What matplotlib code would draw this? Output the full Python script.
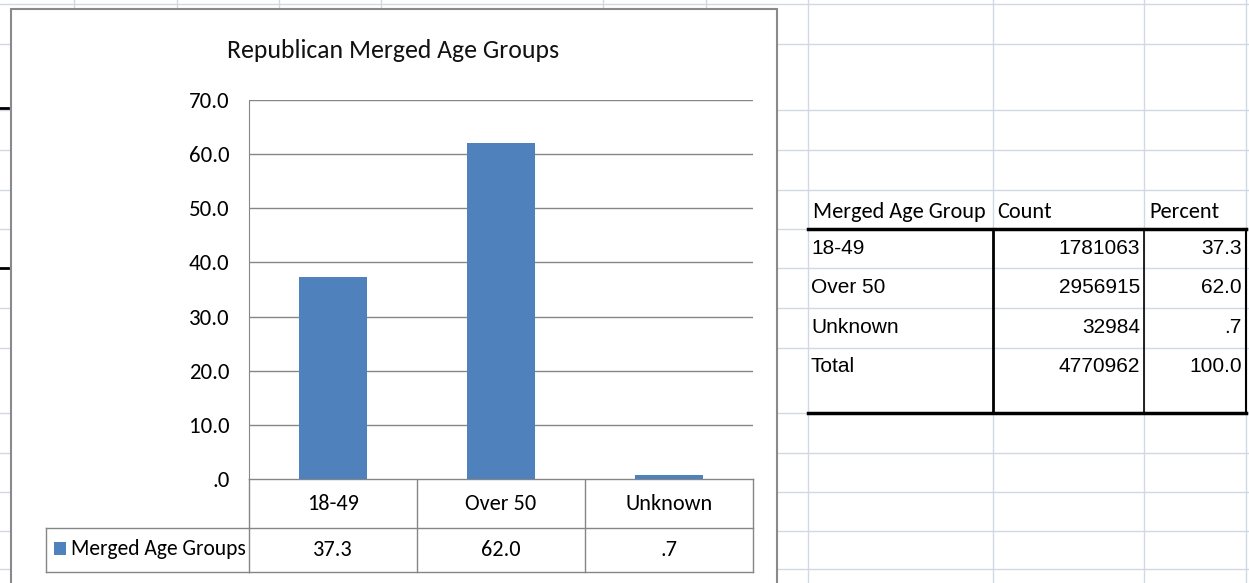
"""Republican merged age groups: Excel-style column chart with data table, plus the SPSS frequency table."""

import matplotlib

matplotlib.use("Agg")
import matplotlib.pyplot as plt
from matplotlib import font_manager
from matplotlib.patches import Rectangle
from matplotlib.transforms import blended_transform_factory

TITLE = "Republican Merged Age Groups"
SERIES_NAME = "Merged Age Groups"
CATEGORIES = ["18-49", "Over 50", "Unknown"]
PERCENTS = [37.3, 62.0, 0.7]
COUNTS = [1781063, 2956915, 32984]
TOTAL_LABEL = "Total"
TOTAL_COUNT = 4770962
TOTAL_PERCENT = 100.0
Y_TICKS = [0, 10, 20, 30, 40, 50, 60, 70]
TABLE_HEADER = ["Merged Age Group", "Count", "Percent"]

BAR_COLOR = "#4F81BD"
GRID_COLOR = "#868686"
SHEET_COLOR = "#D0D7E5"

W, H = 1249, 583


def pick_font(name, fallback):
    try:
        font_manager.findfont(name, fallback_to_default=False)
        return name
    except ValueError:
        return fallback


CHART_FONT = pick_font("Carlito", "Lato")
NARROW_FONT = pick_font("Liberation Sans Narrow", "Liberation Sans")
NARROW_SIZE = 16 if NARROW_FONT == "Liberation Sans Narrow" else 15


def spss(v):
    s = f"{v:.1f}"
    return s[1:] if s.startswith("0.") else s


fig = plt.figure(figsize=(W / 100, H / 100), dpi=100)

# background "sheet" in pixel coordinates (y grows downward)
bg = fig.add_axes([0, 0, 1, 1])
bg.set_xlim(0, W)
bg.set_ylim(H, 0)
bg.axis("off")

sheet_rows = [4, 44, 110, 150, 190, 229, 268, 308, 348, 413, 453, 492, 531, 569]
for y in sheet_rows:
    bg.plot([0, W], [y, y], color=SHEET_COLOR, lw=1, zorder=1)
for x in [74, 177, 279, 381, 603, 706, 808, 993, 1144, 1246]:
    bg.plot([x, x], [0, H], color=SHEET_COLOR, lw=1, zorder=1)
for y in [108, 268]:
    bg.plot([0, 8], [y, y], color="black", lw=2, zorder=1)

bg.add_patch(Rectangle((11, 9), 766, 600, facecolor="white", edgecolor="#8A8A8A", lw=1.5, zorder=2))

bg.text(393, 50, TITLE, ha="center", va="center", fontsize=18.5, family=CHART_FONT, color="#111111", zorder=5)

# bar chart plot area
ax = fig.add_axes([249 / W, 1 - 479 / H, 504 / W, 379 / H])
ax.set_zorder(3)
x = list(range(len(CATEGORIES)))
ax.bar(x, PERCENTS, width=0.405, color=BAR_COLOR, zorder=3)
ax.set_xlim(-0.5, len(CATEGORIES) - 0.5)
ax.set_ylim(0, 70)
ax.set_yticks(Y_TICKS)
ax.set_yticklabels([spss(v) for v in Y_TICKS], family=CHART_FONT, fontsize=16.5)
ax.set_xticks([])
ax.tick_params(axis="y", length=0, pad=14)
ax.yaxis.grid(True, color=GRID_COLOR, lw=1)
ax.set_axisbelow(True)
for side in ["top", "right", "bottom"]:
    ax.spines[side].set_visible(False)
ax.spines["left"].set_color(GRID_COLOR)

# data table under the chart: x follows the bar axis, y in sheet pixels
tr = blended_transform_factory(ax.transData, bg.transData)
n = len(CATEGORIES)
bg.plot([-0.5, n - 0.5], [479, 479], color=GRID_COLOR, lw=1, transform=tr, zorder=5)
for y in [528, 572]:
    bg.plot([46, 249], [y, y], color=GRID_COLOR, lw=1, zorder=5)
    bg.plot([-0.5, n - 0.5], [y, y], color=GRID_COLOR, lw=1, transform=tr, zorder=5)
bg.plot([46, 46], [528, 572], color=GRID_COLOR, lw=1, zorder=5)
for i in range(n + 1):
    bg.plot([i - 0.5, i - 0.5], [479, 572], color=GRID_COLOR, lw=1, transform=tr, zorder=5)
for i, (cat, val) in enumerate(zip(CATEGORIES, PERCENTS)):
    bg.text(i, 504, cat, ha="center", va="center", fontsize=16, family=CHART_FONT, transform=tr, zorder=6)
    bg.text(i, 550, spss(val), ha="center", va="center", fontsize=16, family=CHART_FONT, transform=tr, zorder=6)
bg.add_patch(Rectangle((54, 542), 12, 13, facecolor=BAR_COLOR, edgecolor="none", zorder=6))
bg.text(71, 549, SERIES_NAME, ha="left", va="center", fontsize=15.5, family=CHART_FONT, zorder=6)

# SPSS frequency table on the right
bg.plot([808, 1246], [229, 229], color="black", lw=2.5, zorder=5)
bg.plot([808, 1246], [413, 413], color="black", lw=2.5, zorder=5)
bg.plot([993, 993], [229, 413], color="black", lw=2, zorder=5)
bg.plot([1144, 1144], [229, 413], color="black", lw=1.2, zorder=5)
bg.plot([1246, 1246], [229, 413], color="black", lw=1.5, zorder=5)
for hx, label in zip([813, 997, 1149], TABLE_HEADER):
    bg.text(hx, 218, label, ha="left", va="baseline", fontsize=16, family=CHART_FONT, zorder=6)

row_labels = CATEGORIES + [TOTAL_LABEL]
row_counts = COUNTS + [TOTAL_COUNT]
row_pcts = PERCENTS + [TOTAL_PERCENT]
for k, (lab, cnt, pct) in enumerate(zip(row_labels, row_counts, row_pcts)):
    yb = 254 + k * 39.3
    bg.text(811, yb, lab, ha="left", va="baseline", fontsize=NARROW_SIZE, family=NARROW_FONT, zorder=6)
    bg.text(1140, yb, str(cnt), ha="right", va="baseline", fontsize=NARROW_SIZE, family=NARROW_FONT, zorder=6)
    bg.text(1242, yb, spss(pct), ha="right", va="baseline", fontsize=NARROW_SIZE, family=NARROW_FONT, zorder=6)

fig.savefig("out.png", dpi=100)
plt.close(fig)
